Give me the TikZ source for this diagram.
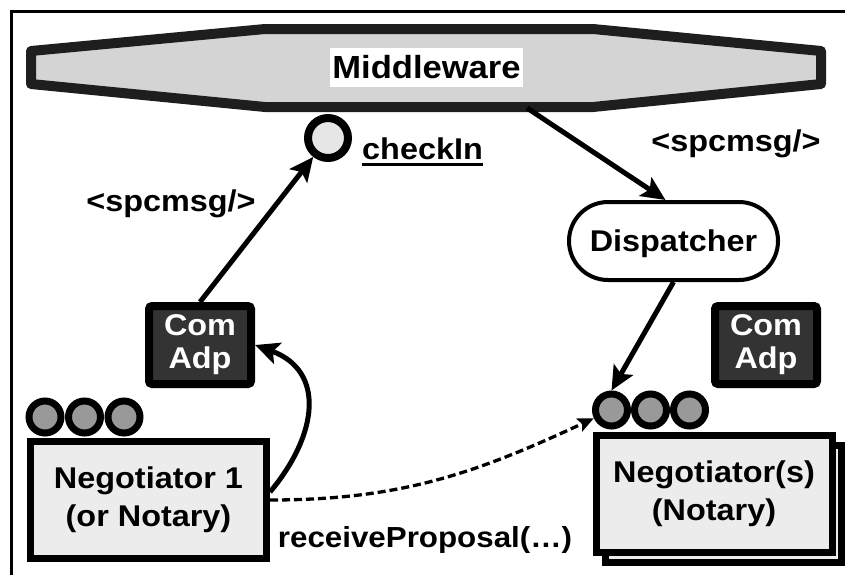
\documentclass[tikz,border=0pt]{standalone}
\usepackage{fontspec}
\setmainfont{Liberation Sans}[FakeStretch=1.08]
\usetikzlibrary{arrows.meta}

\definecolor{mwfill}{HTML}{D4D4D4}
\definecolor{mwedge}{HTML}{1E1E1E}
\definecolor{boxfill}{HTML}{ECECEC}
\definecolor{portfill}{HTML}{999999}
\definecolor{adpfill}{HTML}{333333}
\definecolor{chkfill}{HTML}{E6E6E6}

\begin{document}
\begin{tikzpicture}[x=1pt,y=-1pt,
  lbl/.style={font=\fontsize{30}{34}\selectfont\bfseries, inner sep=0pt},
  agent/.style={draw, line width=7pt, fill=boxfill, minimum width=236pt,
    minimum height=117pt, inner sep=0pt, align=center,
    font=\fontsize{30}{38}\selectfont\bfseries},
  adapter/.style={draw=black, line width=8pt, fill=adpfill, rounded corners=3pt,
    minimum width=102pt, minimum height=78pt, inner sep=0pt, align=center,
    text=white, font=\fontsize{30}{33}\selectfont\bfseries},
  port/.style={circle, draw, line width=7pt, fill=portfill, minimum size=32pt,
    inner sep=0pt},
  arrow/.style={line width=5pt, -{Stealth[length=24pt,width=22pt,inset=5pt]}},
  msgarrow/.style={line width=3.3pt, dash pattern=on 8pt off 4pt,
    -{Stealth[length=16pt,width=14pt,inset=3pt]}},
]
\useasboundingbox (0,0) rectangle (845,574);

% outer frame
\draw[line width=3pt] (11,11) rectangle (860,590);

% middleware bus
\draw[line width=10pt, line join=round, draw=mwedge, fill=mwfill]
  (31,51) -- (265,29) -- (593,29) -- (821,51) -- (821,84)
  -- (593,107) -- (265,107) -- (31,84) -- cycle;
\node[lbl, fill=white, minimum width=193pt, minimum height=39pt,
  font=\fontsize{32}{36}\selectfont\bfseries] (mw) at (426.5,67.5) {Middleware};
\coordinate (mwout) at (527,108);

% checkIn interface
\node[circle, draw, line width=8pt, fill=chkfill, minimum size=40pt,
  inner sep=0pt] (chk) at (328,138) {};
\node[lbl, anchor=base west] (chkLbl) at (362,159) {checkIn};
\draw[line width=3pt] ([yshift=-5pt]chkLbl.base west) -- ([yshift=-5pt]chkLbl.base east);

% message labels
\node[lbl, anchor=base] (msgL) at (171,211) {<spcmsg/>};
\node[lbl, anchor=base] (msgR) at (736,151) {<spcmsg/>};

% dispatcher
\node[lbl, draw, line width=4pt, rounded corners=39pt, fill=white,
  minimum width=209pt, minimum height=78pt, text depth=0pt] (disp)
  at (673.5,241) {Dispatcher};

% communication adapters
\node[adapter] (comL) at (200,345) {Com\\Adp};
\node[adapter] (comR) at (766,345) {Com\\Adp};

% negotiators
\node[agent] (neg1) at (148.5,500) {Negotiator 1\\(or Notary)};
\node[agent] (negB) at (723,503.5) {};
\node[agent] (negN) at (714,493.5) {Negotiator(s)\\(Notary)};

% ports
\node[port] (l1) at (45,417) {};
\node[port] (l2) at (84.5,417) {};
\node[port] (l3) at (124,417) {};
\node[port] (r1) at (611.5,410) {};
\node[port] (r2) at (650.5,410) {};
\node[port] (r3) at (689.5,410) {};

% connectors
\draw[arrow] (comL.north) -- (chk);
\draw[arrow] (mwout) -- ([xshift=-8pt]disp.north);
\draw[arrow] (disp.south) -- (r1.north);
\draw[arrow] ([yshift=8pt]neg1.east) to[out=50,in=-20,looseness=1.3] (comL.east);
\draw[msgarrow] (neg1.east) to[out=0,in=205] (r1);

% method label
\node[lbl, anchor=base, font=\fontsize{29}{33}\selectfont\bfseries] (recv)
  at (425,547) {receiveProposal(…)};
\end{tikzpicture}
\end{document}
